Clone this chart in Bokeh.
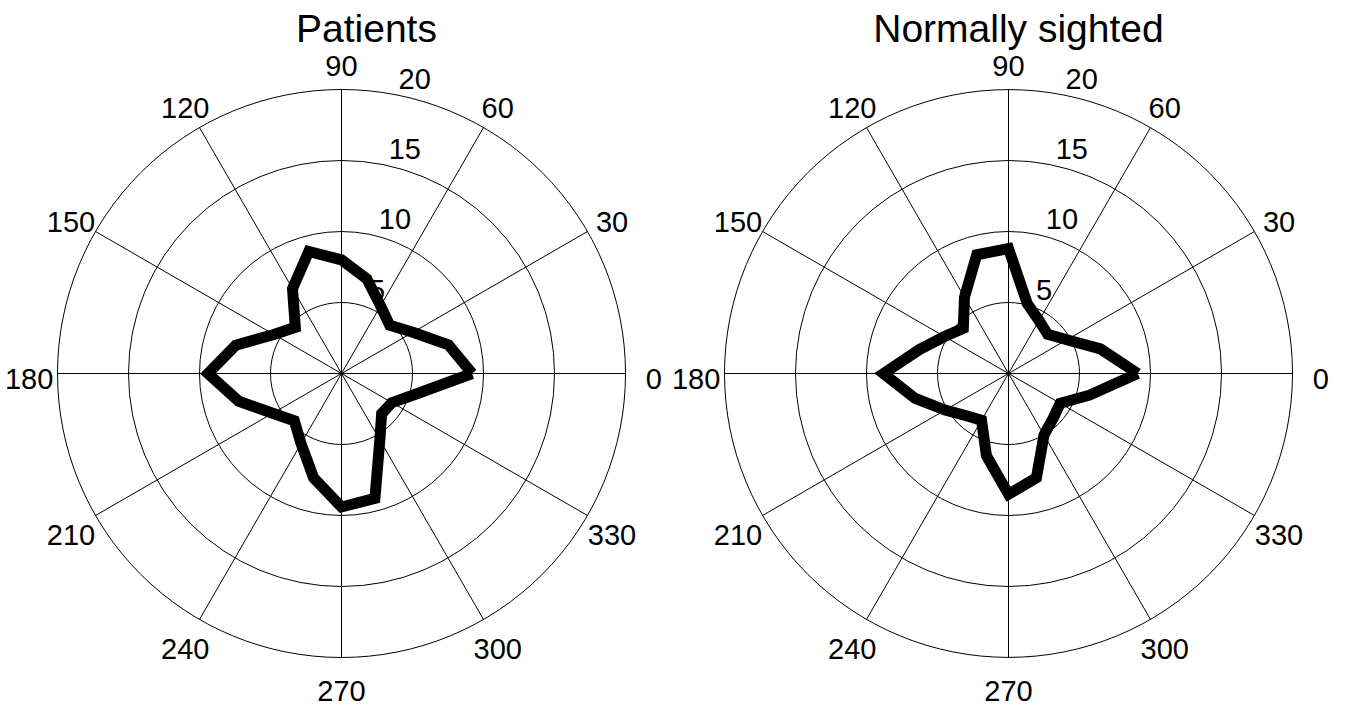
import numpy as np
from bokeh.plotting import figure
from bokeh.layouts import row
from bokeh.models import Range1d
from bokeh.embed import file_html
from bokeh.resources import INLINE
from bokeh.core.properties import value

# ---------------- data ----------------
angles_deg = [0, 15, 30, 45, 60, 75, 90, 105, 120, 135, 150, 165,
              180, 195, 210, 225, 240, 255, 270, 285, 300, 315, 330, 345]
patients = [9.2, 7.8, 5.8, 4.8, 5.5, 6.9, 8.0, 8.9, 6.9, 4.6, 5.5, 7.7,
            9.4, 7.5, 5.6, 4.7, 5.7, 7.6, 9.4, 9.1, 5.4, 4.0, 4.1, 5.5]
normally_sighted = [9.1, 6.7, 4.75, 3.9, 4.3, 5.1, 8.8, 8.65, 6.2, 4.5, 5.2, 6.5,
                    8.8, 6.8, 5.15, 4.2, 3.8, 6.0, 8.5, 7.6, 5.0, 4.45, 4.2, 5.9]
ring_values = [5, 10, 15, 20]
ring_labels = ["5", "10", "15", "20"]
spoke_angles = [0, 30, 60, 90, 120, 150]
angle_ticks = [0, 30, 60, 90, 120, 150, 180, 210, 240, 270, 300, 330]
angle_tick_labels = ["0", "30", "60", "90", "120", "150", "180",
                     "210", "240", "270", "300", "330"]
titles = ["Patients", "Normally sighted"]

# ---------------- layout constants ----------------
PX = 14.2          # pixels per data unit
H = 707
CY = 373           # centre row inside figure (px from top)
FONT = value("Liberation Sans")
RMAX = max(ring_values)


def make_polar(title, vals, width, cx, title_dx):
    p = figure(width=width, height=H,
               x_range=Range1d(-cx / PX, (width - cx) / PX),
               y_range=Range1d((CY - H) / PX, CY / PX),
               x_axis_type=None, y_axis_type=None,
               output_backend="svg", toolbar_location=None,
               min_border=0)
    p.grid.visible = False
    p.outline_line_color = None
    p.background_fill_color = "white"
    p.border_fill_color = "white"

    # spokes
    sa = np.deg2rad(spoke_angles)
    p.segment(x0=-RMAX * np.cos(sa), y0=-RMAX * np.sin(sa),
              x1=RMAX * np.cos(sa), y1=RMAX * np.sin(sa),
              line_color="black", line_width=1)
    # rings
    p.circle(x=[0] * len(ring_values), y=[0] * len(ring_values),
             radius=ring_values, fill_color=None,
             line_color="black", line_width=1)

    # radial labels (MATLAB style: at 82 deg, leading spaces)
    c82, s82 = np.cos(np.deg2rad(82)), np.sin(np.deg2rad(82))
    rr = np.array(ring_values) + RMAX / 4 / 20
    p.text(x=rr * c82, y=rr * s82, text=ring_labels,
           text_align="left", text_baseline="alphabetic",
           x_offset=17, y_offset=-10,
           text_font=FONT, text_font_size="29px", text_color="black")

    # angle labels
    ta = np.deg2rad(angle_ticks)
    p.text(x=RMAX * 1.1 * np.cos(ta), y=RMAX * 1.1 * np.sin(ta),
           text=angle_tick_labels, text_align="center",
           text_baseline="middle", y_offset=5,
           text_font=FONT, text_font_size="29px", text_color="black")

    # title
    p.text(x=[title_dx], y=[23.31], text=[title], text_align="center",
           text_baseline="alphabetic", y_offset=-14, text_font=FONT,
           text_font_size="39px", text_color="black")

    # data
    th = np.deg2rad(angles_deg + [angles_deg[0]])
    v = np.array(vals + [vals[0]])
    p.line(x=v * np.cos(th), y=v * np.sin(th), line_color="black",
           line_width=11, line_join="miter")
    return p


left = make_polar(titles[0], patients, 666, 341, 1.76)
right = make_polar(titles[1], normally_sighted, 679, 342, 0.7)

layout = row(left, right)
open("out.html", "w").write(file_html(layout, INLINE))
